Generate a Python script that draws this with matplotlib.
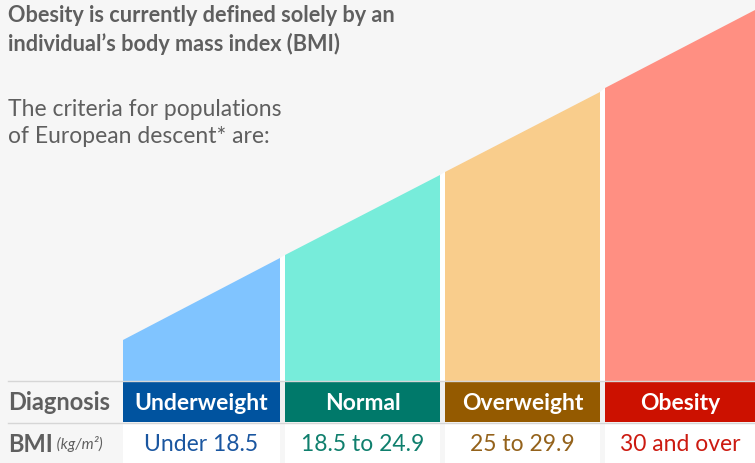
import matplotlib
matplotlib.use("Agg")
import matplotlib.pyplot as plt
from matplotlib.patches import Rectangle

plt.rcParams["font.family"] = ["Lato", "DejaVu Sans"]

# data
categories = ["Underweight", "Normal", "Overweight", "Obesity"]
bmi_ranges = ["Under 18.5", "18.5 to 24.9", "25 to 29.9", "30 and over"]
# height of each band's top edge above the table (px), at its left and right side
top_left = [41, 126, 209, 293]
top_right = [123, 206, 289, 371]

light_colors = ["#80c4ff", "#77ecda", "#f9cd8c", "#ff8f82"]
dark_colors = ["#00539f", "#00796a", "#945a00", "#cc1100"]
text_colors = ["#1a56a0", "#0f7f6d", "#94621b", "#cc1a10"]

W, H = 755, 463
BAND_X = [(123, 280), (285, 440), (445, 600), (605, 755)]
BASE = 381
HEAD_TOP, HEAD_BOT = 382, 422
ROW_TOP = 424
GRAY = "#5f5f5f"

fig = plt.figure(figsize=(W / 100, H / 100), dpi=100, facecolor="#f6f6f6")
ax = fig.add_axes([0, 0, 1, 1])
ax.set_xlim(0, W)
ax.set_ylim(H, 0)
ax.axis("off")

for i, (x0, x1) in enumerate(BAND_X):
    yl, yr = BASE - top_left[i], BASE - top_right[i]
    ax.fill([x0, x1, x1, x0], [yl, yr, BASE, BASE], color=light_colors[i], lw=0)
    # white gap to the next band
    if i < len(BAND_X) - 1:
        nx0 = BAND_X[i + 1][0]
        ax.fill([x1, nx0, nx0, x1], [yr, BASE - top_left[i + 1], BASE, BASE],
                color="white", lw=0)
        ax.add_patch(Rectangle((x1, HEAD_TOP), nx0 - x1, HEAD_BOT - HEAD_TOP,
                               color="#efefef", lw=0))
    # header cell
    ax.add_patch(Rectangle((x0, HEAD_TOP), x1 - x0, HEAD_BOT - HEAD_TOP,
                           color=dark_colors[i], lw=0))
    ax.text((x0 + x1) / 2, (HEAD_TOP + HEAD_BOT) / 2 + 1, categories[i],
            ha="center", va="center", color="white", fontsize=16.5, fontweight="bold")
    # BMI cell
    ax.add_patch(Rectangle((x0, ROW_TOP), x1 - x0, H - ROW_TOP, color="white", lw=0))
    ax.text((x0 + x1) / 2, (ROW_TOP + H) / 2 + 1, bmi_ranges[i],
            ha="center", va="center", color=text_colors[i], fontsize=16.5)

ax.plot([8, W], [BASE, BASE], color="#d6d6d6", lw=1)
ax.plot([8, W], [HEAD_BOT + 1, HEAD_BOT + 1], color="#d6d6d6", lw=1)

ax.text(8, (HEAD_TOP + HEAD_BOT) / 2 + 1, "Diagnosis", ha="left", va="center",
        color=GRAY, fontsize=17, fontweight="bold")
t = ax.text(8, (ROW_TOP + H) / 2 + 1, "BMI", ha="left", va="center",
            color=GRAY, fontsize=17, fontweight="bold")
ax.annotate(" (kg/m²)", xycoords=t, xy=(1, 0.5), ha="left", va="center",
            color=GRAY, fontsize=11, fontstyle="italic")

ax.text(8, 30, "Obesity is currently defined solely by an\nindividual’s body mass index (BMI)",
        ha="left", va="center", color=GRAY, fontsize=15.6, fontweight="bold",
        linespacing=1.35)
ax.text(8, 123, "The criteria for populations\nof European descent* are:",
        ha="left", va="center", color=GRAY, fontsize=16.5, linespacing=1.3)

fig.savefig("out.png", dpi=100, facecolor=fig.get_facecolor())
